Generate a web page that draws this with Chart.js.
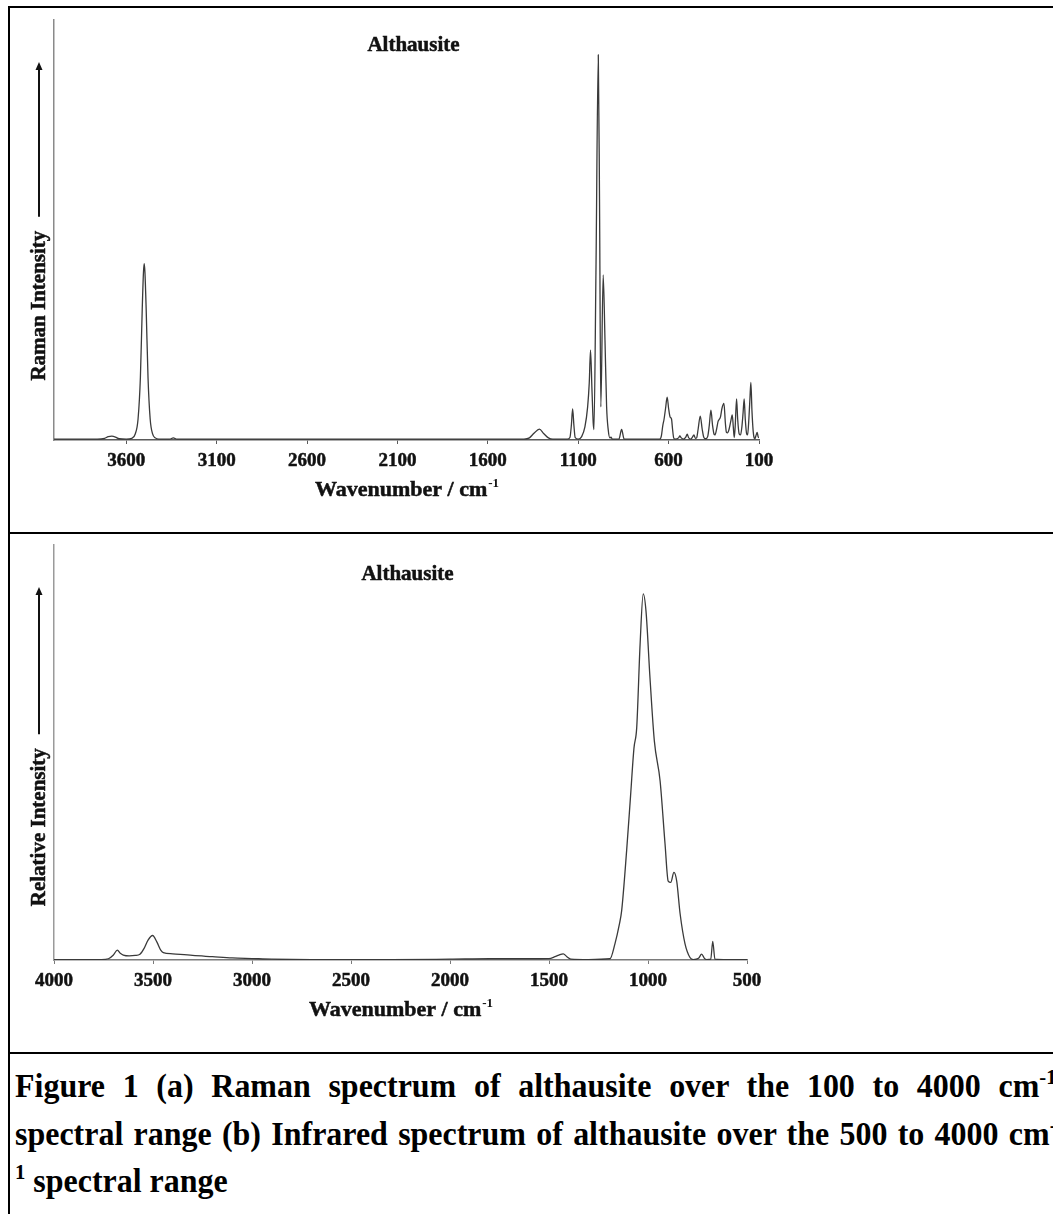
<!DOCTYPE html>
<html>
<head>
<meta charset="utf-8">
<script src="https://cdn.jsdelivr.net/npm/chart.js@4"></script>
<style>
  html, body { margin: 0; padding: 0; background: #fff; }
  body { width: 1053px; height: 1214px; overflow: hidden; position: relative; font-family: "Liberation Serif", "Times New Roman", serif; }
  .hr { position: absolute; left: 8px; width: 1100px; height: 2px; background: #000; }
  .vr { position: absolute; left: 8px; top: 6px; width: 2px; height: 1300px; background: #000; }
  canvas { position: absolute; }
  #caption { position: absolute; left: 15px; top: 1062px; width: 1108px; font-weight: bold; font-size: 34px; line-height: 47.5px; color: #000;
             transform: scaleX(0.94); transform-origin: left top; }
  #caption div { text-align: justify; text-align-last: justify; }
  #caption div.last { text-align-last: left; }
  #caption sup { font-size: 22px; line-height: 0; vertical-align: 13px; }
</style>
</head>
<body>
<div class="vr"></div>
<div class="hr" style="top:6px"></div>
<div class="hr" style="top:532px"></div>
<div class="hr" style="top:1052px"></div>

<canvas id="raman" width="1043" height="523" style="left:10px; top:9px"></canvas>
<canvas id="ir" width="1043" height="517" style="left:10px; top:535px"></canvas>

<div id="caption">
  <div>Figure 1 (a) Raman spectrum of althausite over the 100 to 4000 cm<sup>-1</sup></div>
  <div>spectral range (b) Infrared spectrum of althausite over the 500 to 4000 cm<sup>-</sup></div>
  <div class="last"><sup>1</sup> spectral range</div>
</div>

<script>
// (a) Raman spectrum, wavenumber / cm-1 and intensity (0-100 = full axis height)
const ramanWavenumber = [
  4000, 3760, 3720, 3700, 3680, 3660, 3640, 3600, 3570, 3550, 3535, 3522, 3512, 3505, 3501, 3497,
  3490, 3480, 3468, 3455, 3440, 3420, 3360, 3340, 3320, 2600, 1400, 1370, 1345, 1315, 1290, 1265,
  1240, 1160, 1146, 1138, 1131, 1124, 1117, 1100, 1081, 1063, 1048, 1039, 1032, 1024, 1017, 1013,
  1002, 989, 982, 975, 962, 952, 943, 934, 925, 919, 912, 875, 860, 846, 700, 650, 640, 632, 625,
  617, 608, 600, 592, 584, 578, 572, 565, 545, 538, 530, 518, 505, 497, 490, 478, 468, 460, 452,
  445, 437, 425, 414, 405, 395, 384, 375, 366, 357, 348, 344, 335, 326, 320, 313, 305, 294, 286,
  280, 274, 266, 256, 248, 242, 237, 232, 224, 218, 210, 202, 195, 188, 182, 176, 168, 163, 156,
  150, 145, 139, 132, 127, 123, 117, 110, 105, 100
];
const ramanIntensity = [
  0.2, 0.2, 0.4, 0.8, 0.9, 0.7, 0.3, 0.2, 0.4, 1.5, 5, 15, 31, 40, 42, 40,
  31, 15, 5, 1.5, 0.5, 0.2, 0.2, 0.5, 0.2, 0.2, 0.2, 0.5, 1.6, 2.6, 1.5, 0.5,
  0.2, 0.2, 0.6, 3.5, 7.4, 3.5, 0.6, 0.2, 0.8, 3.1, 7.9, 13.6, 21.4, 11.9, 4, 2.5,
  39.8, 91.7, 55.5, 7.9, 39.3, 23.8, 7.9, 2.4, 0.5, 0.7, 0.2, 0.2, 2.5, 0.2, 0.2, 0.2, 1, 3.5, 5,
  7.5, 10.2, 7.5, 5.5, 5, 2.5, 0.5, 0.2, 0.5, 1, 0.5, 0.2, 0.7, 1.4, 0.6, 0.2, 0.7, 1.2, 0.4,
  0.5, 2.5, 5.7, 2.5, 0.6, 0.3, 0.8, 3.5, 7.1, 3.5, 1.3, 1.2, 2.5, 4.5, 4.9, 5.5, 7.5, 8.7, 4,
  1.8, 1.7, 2.5, 4.5, 6, 3, 0.6, 3, 9.8, 5, 1.5, 1.2, 3, 6.5, 9.8, 5, 1.4, 1.2, 5,
  10, 13.7, 7, 2, 0.5, 0.3, 1, 1.8, 0.8, 0.5
];
const ramanTicks = [3600, 3100, 2600, 2100, 1600, 1100, 600, 100];

// (b) Infrared spectrum
const irWavenumber = [
  4000, 3760, 3725, 3700, 3680, 3665, 3650, 3620, 3590, 3566, 3545, 3525, 3502, 3480, 3460, 3448,
  3400, 3300, 3200, 3100, 3000, 2900, 2700, 2300, 2000, 1800, 1600, 1500, 1470, 1450, 1428, 1410,
  1390, 1300, 1192, 1167, 1145, 1133, 1108, 1088, 1071, 1057, 1040, 1024, 1010, 990, 968, 939,
  914, 898, 885, 869, 855, 838, 813, 788, 771, 745, 729, 715, 704, 683, 673, 662, 600, 500
];
const irIntensity = [
  0.1, 0.1, 0.3, 1.2, 2.4, 1.6, 1.2, 1, 1.1, 1.4, 2.8, 4.8, 5.9, 4.3, 2.3, 1.8,
  1.5, 1.1, 0.8, 0.5, 0.35, 0.2, 0.1, 0.1, 0.2, 0.3, 0.3, 0.35, 0.8, 1.2, 1.5, 0.8,
  0.2, 0.1, 0.3, 3.9, 8.5, 11.9, 26.3, 39.6, 51, 56, 76, 88.2, 84, 68, 52.8, 43.2,
  28, 19, 18.7, 21.1, 19, 11.2, 3.9, 0.6, 0.1, 0.4, 1.4, 0.4, 0.1, 0.2, 4.5, 0.2, 0.1, 0.1
];
const irTicks = [4000, 3500, 3000, 2500, 2000, 1500, 1000, 500];

const serif = '"Liberation Serif", "Times New Roman", serif';

// draw text a little heavier, like the scanned original
function heavyText(ctx, s, x, y) {
  ctx.lineWidth = 0.5;
  ctx.strokeText(s, x, y);
  ctx.fillText(s, x, y);
}

// titles, rotated y label with arrow, x title with superscript
const panelText = {
  id: 'panelText',
  afterDraw(chart, args, opts) {
    const { ctx, chartArea: a } = chart;
    const cx = (a.left + a.right) / 2;
    ctx.save();
    ctx.fillStyle = '#111';
    ctx.strokeStyle = '#111';
    ctx.textBaseline = 'alphabetic';

    ctx.textAlign = 'center';
    ctx.font = 'bold 21px ' + serif;
    heavyText(ctx, opts.title, cx + 7, a.top + opts.titleOffset);

    const main = 'Wavenumber / cm';
    ctx.font = 'bold 22px ' + serif;
    const w1 = ctx.measureText(main).width;
    ctx.font = 'bold 13px ' + serif;
    const w2 = ctx.measureText('-1').width;
    const x0 = cx - (w1 + w2) / 2;
    ctx.textAlign = 'left';
    ctx.font = 'bold 22px ' + serif;
    heavyText(ctx, main, x0, a.bottom + 56);
    ctx.font = 'bold 13px ' + serif;
    ctx.fillText('-1', x0 + w1 + 1, a.bottom + 47);

    ctx.font = 'bold 21px ' + serif;
    const lw = ctx.measureText(opts.yLabel).width;
    const ly = a.top + 0.68 * (a.bottom - a.top);
    ctx.save();
    ctx.translate(a.left - 14, ly);
    ctx.rotate(-Math.PI / 2);
    ctx.textAlign = 'center';
    ctx.textBaseline = 'middle';
    heavyText(ctx, opts.yLabel, 0, 0);
    ctx.restore();

    const ax = a.left - 15;
    const top = a.top + 42;
    const bottom = ly - lw / 2 - 14;
    ctx.lineWidth = 2;
    ctx.beginPath();
    ctx.moveTo(ax, bottom);
    ctx.lineTo(ax, top + 6);
    ctx.stroke();
    ctx.beginPath();
    ctx.moveTo(ax, top);
    ctx.lineTo(ax - 3.5, top + 8);
    ctx.lineTo(ax + 3.5, top + 8);
    ctx.closePath();
    ctx.fill();
    ctx.restore();
  }
};

function spectrumChart(id, xs, ys, ticks, xmin, xmax, text, axisColors) {
  return new Chart(document.getElementById(id), {
    type: 'line',
    data: {
      datasets: [{
        data: xs.map((x, i) => ({ x: x, y: ys[i] })),
        borderColor: '#3a3a3a',
        borderWidth: 1.3,
        pointRadius: 0,
        fill: false,
        cubicInterpolationMode: 'monotone'
      }]
    },
    options: {
      responsive: false,
      animation: false,
      devicePixelRatio: 1,
      layout: { padding: { left: 36, right: text.right, top: text.top, bottom: 0 } },
      plugins: {
        legend: { display: false },
        tooltip: { enabled: false },
        panelText: text
      },
      scales: {
        x: {
          type: 'linear',
          min: xmin,
          max: xmax,
          reverse: true,
          afterBuildTicks: (s) => { s.ticks = ticks.map(v => ({ value: v })); },
          afterFit: (s) => { s.height = 92; },
          grid: { display: true, drawOnChartArea: false, drawTicks: true, tickLength: 4, color: axisColors[0], lineWidth: 1 },
          border: { display: true, color: axisColors[0], width: 1.6 },
          ticks: {
            autoSkip: false,
            maxRotation: 0,
            padding: 6,
            color: '#111',
            textStrokeColor: '#111',
            textStrokeWidth: 0.5,
            font: { family: serif, size: 19, weight: 'bold' },
            callback: (v) => String(v)
          }
        },
        y: {
          min: 0,
          max: 100,
          grid: { display: false },
          border: { display: true, color: axisColors[1], width: 1.5 },
          ticks: { display: false }
        }
      }
    },
    plugins: [panelText]
  });
}

spectrumChart('raman', ramanWavenumber, ramanIntensity, ramanTicks, 100, 4000,
  { title: 'Althausite', yLabel: 'Raman Intensity', titleOffset: 31, right: 294, top: 11 },
  ['#5a5a5a', '#8a8a8a']);

spectrumChart('ir', irWavenumber, irIntensity, irTicks, 500, 4000,
  { title: 'Althausite', yLabel: 'Relative Intensity', titleOffset: 35, right: 306, top: 10 },
  ['#7a7a7a', '#9a9a9a']);
</script>
</body>
</html>
